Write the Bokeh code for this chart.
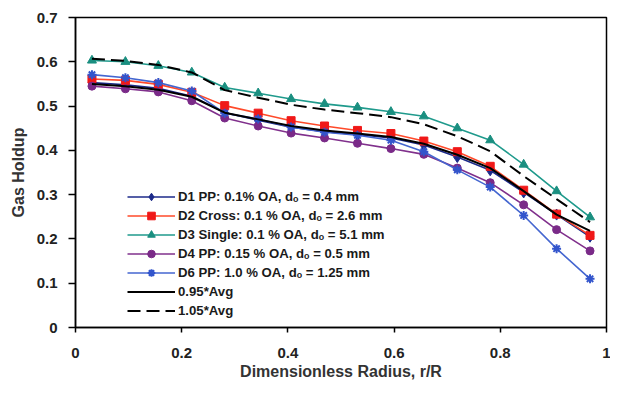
from bokeh.plotting import figure
from bokeh.models import FixedTicker, Range1d, Legend
from bokeh.embed import file_html
from bokeh.resources import INLINE

# ---- data ----
r_R = [0.031, 0.094, 0.156, 0.219, 0.281, 0.344, 0.406, 0.469,
       0.531, 0.594, 0.656, 0.719, 0.781, 0.844, 0.906, 0.969]

d1 = [0.553, 0.548, 0.540, 0.522, 0.485, 0.468, 0.452, 0.442,
      0.436, 0.428, 0.412, 0.385, 0.355, 0.305, 0.255, 0.205]
d2 = [0.561, 0.558, 0.549, 0.531, 0.501, 0.484, 0.467, 0.455,
      0.445, 0.438, 0.421, 0.397, 0.364, 0.310, 0.256, 0.208]
d3 = [0.603, 0.600, 0.591, 0.576, 0.542, 0.529, 0.516, 0.505,
      0.497, 0.487, 0.477, 0.450, 0.423, 0.368, 0.308, 0.249]
d4 = [0.545, 0.539, 0.532, 0.512, 0.473, 0.455, 0.439, 0.428,
      0.416, 0.404, 0.391, 0.360, 0.327, 0.277, 0.221, 0.173]
d6 = [0.571, 0.564, 0.553, 0.534, 0.484, 0.471, 0.453, 0.441,
      0.434, 0.423, 0.397, 0.356, 0.317, 0.253, 0.178, 0.110]
avg095 = [0.550, 0.545, 0.537, 0.521, 0.485, 0.470, 0.455, 0.445,
          0.438, 0.430, 0.415, 0.390, 0.360, 0.308, 0.255, 0.218]
avg105 = [0.607, 0.602, 0.593, 0.576, 0.536, 0.519, 0.503, 0.492,
          0.484, 0.475, 0.459, 0.432, 0.398, 0.342, 0.290, 0.238]

labels = [
    "D1 PP: 0.1% OA, dₒ = 0.4 mm",
    "D2 Cross: 0.1 % OA, dₒ = 2.6 mm",
    "D3 Single: 0.1 % OA, dₒ = 5.1 mm",
    "D4 PP: 0.15 % OA, dₒ = 0.5 mm",
    "D6 PP: 1.0 % OA, dₒ = 1.25 mm",
    "0.95*Avg",
    "1.05*Avg",
]
x_ticks = [0, 0.2, 0.4, 0.6, 0.8, 1.0]
y_ticks = [0, 0.1, 0.2, 0.3, 0.4, 0.5, 0.6, 0.7]

FONT = "Liberation Sans"

p = figure(width=610, height=382, output_backend="svg", toolbar_location=None,
           x_range=Range1d(0, 1), y_range=Range1d(0, 0.7),
           min_border_left=75, min_border_right=4, min_border_top=17,
           min_border_bottom=52)
p.grid.visible = False
p.outline_line_color = "black"
p.outline_line_width = 1.5
p.background_fill_color = "white"

series = [
    (d1, labels[0], "#1c2a8a", "#1c2a8a", "diamond", 11),
    (d2, labels[1], "#ff4a2a", "#f01818", "square", 8),
    (d3, labels[2], "#1f9a8c", "#1a8f80", "triangle", 9),
    (d4, labels[3], "#80308c", "#7a2a88", "circle", 8),
    (d6, labels[4], "#4466d0", "#3355cc", "asterisk", 9),
]
items = []
for ys, lab, lc, mc, mk, sz in series:
    l = p.line(r_R, ys, line_color=lc, line_width=1.6)
    s = p.scatter(r_R, ys, marker=mk, size=sz, fill_color=mc, line_color=mc,
                  line_width=2 if mk == "asterisk" else 1)
    items.append((lab, [l, s]))

la = p.line(r_R, avg095, line_color="black", line_width=2)
lb = p.line(r_R, avg105, line_color="black", line_width=2, line_dash="13 6")
items.append((labels[5], [la]))
items.append((labels[6], [lb]))

legend = Legend(items=items, location=(52, 7), margin=0, padding=0, spacing=0,
                label_height=19, glyph_height=19, glyph_width=48,
                label_standoff=3, background_fill_alpha=0, border_line_alpha=0,
                label_text_font=FONT, label_text_font_style="bold",
                label_text_font_size="13.2px", label_text_color="#1a1a1a")
p.add_layout(legend, "center")

for ax in (p.xaxis[0], p.yaxis[0]):
    ax.axis_line_color = "black"
    ax.axis_line_width = 1.5
    ax.major_tick_line_color = "black"
    ax.major_tick_line_width = 1.5
    ax.major_tick_in = 0
    ax.minor_tick_line_color = None
    ax.major_label_text_font = FONT
    ax.major_label_text_font_style = "bold"
    ax.major_label_text_font_size = "15px"
    ax.major_label_text_color = "#222222"
    ax.axis_label_text_font = FONT
    ax.axis_label_text_font_style = "bold"
    ax.axis_label_text_font_size = "16px"
    ax.axis_label_text_color = "#333333"

p.xaxis.ticker = FixedTicker(ticks=x_ticks)
p.yaxis.ticker = FixedTicker(ticks=y_ticks)
p.xaxis.major_label_overrides = {0: "0", 1: "1"}
p.yaxis.major_label_overrides = {0: "0"}
p.xaxis.major_tick_out = 5
p.yaxis.major_tick_out = 7
p.xaxis.major_label_standoff = 15
p.yaxis.major_label_standoff = 11
p.xaxis.axis_label = "Dimensionless Radius, r/R"
p.yaxis.axis_label = "Gas Holdup"
p.xaxis.axis_label_standoff = 2
p.yaxis.axis_label_standoff = 7

open("out.html", "w").write(file_html(p, INLINE))
